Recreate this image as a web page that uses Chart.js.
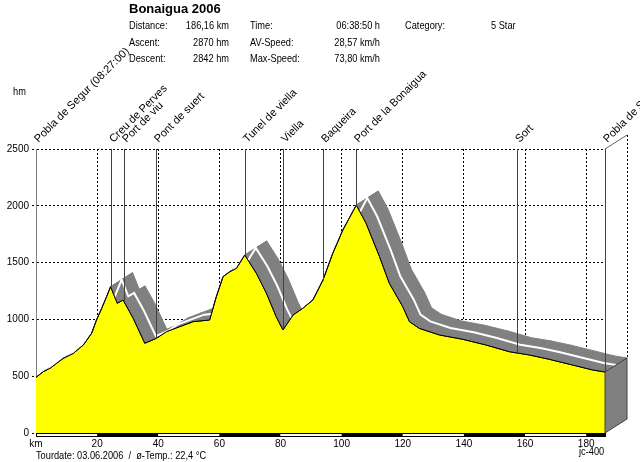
<!DOCTYPE html>
<html>
<head>
<meta charset="utf-8">
<script src="https://cdn.jsdelivr.net/npm/chart.js@4.4.1/dist/chart.umd.min.js"></script>
<style>
html, body { margin: 0; padding: 0; background: #fff; }
#wrap { width: 640px; height: 462px; }
</style>
</head>
<body>
<div id="wrap"><canvas id="profile" width="640" height="462"></canvas></div>
<script>
// profile: distance (km) / altitude (m)
var distKm = [0, 2.4, 4.6, 8.9, 12.2, 15.5, 18.2, 19.8, 21.5, 23.1, 24.4, 26.6, 28.5, 31.8, 35.6, 39.4, 42.7, 47.0, 51.4, 56.8,
    59.0, 61.2, 63.4, 65.6, 68.3, 72.1, 75.4, 78.6, 80.8, 84.1, 87.3, 90.6, 93.9, 97.1, 100.4, 104.8, 108.0, 112.4, 115.6, 120.0,
    122.2, 125.4, 132.0, 139.6, 147.2, 154.8, 161.4, 167.9, 175.5, 182.1, 186.16];
var elevM = [490, 540, 570, 657, 701, 775, 878, 995, 1098, 1200, 1288, 1142, 1171, 1010, 790, 834, 892, 936, 980, 995,
    1200, 1376, 1420, 1450, 1567, 1406, 1230, 1024, 907, 1039, 1098, 1171, 1347, 1582, 1787, 2007, 1846, 1552, 1318, 1112,
    980, 921, 863, 825, 775, 716, 687, 649, 599, 555, 537];

var placeNames = ['Pobla de Segur (08:27:00)', 'Creu de Perves', 'Port de viu', 'Pont de suert', 'Tunel de viella',
    'Viella', 'Baqueira', 'Port de la Bonaigua', 'Sort', 'Pobla de Segur'];
var placeKm = [0, 24.4, 28.7, 39.4, 68.3, 80.7, 93.8, 104.6, 157.5, 186.16];

var kmTicks = [0, 20, 40, 60, 80, 100, 120, 140, 160, 180];
var hmTicks = [0, 500, 1000, 1500, 2000, 2500];

var tourTitle = 'Bonaigua 2006';
var infoLabels = [['Distance:', 'Ascent:', 'Descent:'], ['Time:', 'AV-Speed:', 'Max-Speed:'], ['Category:']];
var infoValues = [['186,16 km', '2870 hm', '2842 hm'], ['06:38:50 h', '28,57 km/h', '73,80 km/h'], ['5 Star']];
var footerText = 'Tourdate: 03.06.2006  /  \u00f8-Temp.: 22,4 \u00b0C';

var sans = "'Liberation Sans', Arial, sans-serif";
var depth = { x: 22, y: -14 };

function elevAt(km) {
    for (var i = 0; i < distKm.length - 1; i++) {
        if (km >= distKm[i] && km <= distKm[i + 1]) {
            var t = (km - distKm[i]) / (distKm[i + 1] - distKm[i]);
            return elevM[i] + t * (elevM[i + 1] - elevM[i]);
        }
    }
    return elevM[elevM.length - 1];
}

// the original uses a narrow bitmap font, so squeeze Liberation Sans a bit
function narrowText(ctx, txt, x, y, align) {
    var sx = 0.84;
    ctx.save();
    ctx.translate(x, y);
    ctx.scale(sx, 1);
    ctx.textAlign = align || 'left';
    ctx.fillText(txt, 0, 0);
    ctx.restore();
}

var reliefPlugin = {
    id: 'relief',
    afterDraw: function(chart) {
        var ctx = chart.ctx;
        var xs = chart.scales.x, ys = chart.scales.y;
        var area = chart.chartArea;
        var pts = distKm.map(function(d, i) {
            return { x: xs.getPixelForValue(d), y: ys.getPixelForValue(elevM[i]) };
        });
        var last = pts[pts.length - 1];
        var y0 = ys.getPixelForValue(0);

        // top face of the road, only where it sits above the profile
        ctx.save();
        ctx.beginPath();
        ctx.moveTo(0, 0);
        ctx.lineTo(0, pts[0].y);
        pts.forEach(function(p) { ctx.lineTo(p.x, p.y); });
        ctx.lineTo(640, last.y);
        ctx.lineTo(640, 0);
        ctx.closePath();
        ctx.clip();
        ctx.fillStyle = '#808080';
        ctx.strokeStyle = '#808080';
        ctx.lineWidth = 1;
        for (var i = 0; i < pts.length - 1; i++) {
            var a = pts[i], b = pts[i + 1];
            ctx.beginPath();
            ctx.moveTo(a.x, a.y);
            ctx.lineTo(b.x, b.y);
            ctx.lineTo(b.x + depth.x, b.y + depth.y);
            ctx.lineTo(a.x + depth.x, a.y + depth.y);
            ctx.closePath();
            ctx.fill();
            ctx.stroke();
        }
        ctx.strokeStyle = '#ffffff';
        ctx.lineWidth = 2;
        ctx.beginPath();
        pts.forEach(function(p, i) {
            var px = p.x + depth.x / 2, py = p.y + depth.y / 2;
            if (i === 0) ctx.moveTo(px, py); else ctx.lineTo(px, py);
        });
        ctx.stroke();
        ctx.restore();

        ctx.save();
        ctx.strokeStyle = '#000';
        ctx.lineWidth = 1;
        ctx.beginPath();
        pts.forEach(function(p, i) { if (i === 0) ctx.moveTo(p.x, p.y); else ctx.lineTo(p.x, p.y); });
        ctx.stroke();

        // end face
        ctx.fillStyle = '#808080';
        ctx.strokeStyle = '#404040';
        ctx.beginPath();
        ctx.moveTo(last.x, last.y);
        ctx.lineTo(last.x + depth.x, last.y + depth.y);
        ctx.lineTo(last.x + depth.x, y0 + depth.y);
        ctx.lineTo(last.x, y0);
        ctx.closePath();
        ctx.fill();
        ctx.stroke();

        // back corner
        ctx.strokeStyle = '#606060';
        ctx.beginPath();
        ctx.moveTo(last.x, area.top);
        ctx.lineTo(last.x + depth.x, area.top + depth.y);
        ctx.stroke();
        ctx.strokeStyle = '#000';
        ctx.setLineDash([2, 2]);
        ctx.beginPath();
        ctx.moveTo(last.x + depth.x + 0.5, area.top + depth.y);
        ctx.lineTo(last.x + depth.x + 0.5, last.y + depth.y);
        ctx.stroke();
        ctx.setLineDash([]);

        // km bar below the axis
        var marks = kmTicks.concat([distKm[distKm.length - 1]]);
        for (var k = 0; k < marks.length - 1; k++) {
            var xa = xs.getPixelForValue(marks[k]), xb = xs.getPixelForValue(marks[k + 1]);
            ctx.fillStyle = k % 2 === 0 ? '#ffffff' : '#000000';
            ctx.fillRect(xa, y0, xb - xa, 4);
        }
        ctx.strokeStyle = '#000';
        ctx.strokeRect(xs.getPixelForValue(0) + 0.5, y0 + 0.5, last.x - xs.getPixelForValue(0), 3);

        // places
        ctx.font = '11px ' + sans;
        ctx.fillStyle = '#000';
        ctx.textAlign = 'left';
        ctx.textBaseline = 'alphabetic';
        placeKm.forEach(function(km, i) {
            var x = Math.round(xs.getPixelForValue(km)) + 0.5;
            if (i > 0) {
                ctx.strokeStyle = '#404040';
                ctx.beginPath();
                ctx.moveTo(x, area.top);
                ctx.lineTo(x, ys.getPixelForValue(elevAt(km)));
                ctx.stroke();
            }
            ctx.save();
            ctx.translate(x + 2, 143);
            ctx.rotate(-Math.PI / 4);
            ctx.fillText(placeNames[i], 0, 0);
            ctx.restore();
        });

        // header block
        ctx.textBaseline = 'middle';
        ctx.font = 'bold 13px ' + sans;
        ctx.fillText(tourTitle, 129, 9);
        var labelX = [129, 250, 405];
        var valueX = [229, 380, 491];
        var rowY = [26, 43, 59];
        ctx.font = '11px ' + sans;
        infoLabels.forEach(function(col, c) {
            col.forEach(function(txt, r) {
                narrowText(ctx, txt, labelX[c], rowY[r], 'left');
                narrowText(ctx, infoValues[c][r], valueX[c], rowY[r], c < 2 ? 'right' : 'left');
            });
        });
        narrowText(ctx, 'hm', 13, 92, 'left');
        narrowText(ctx, footerText, 36, 456, 'left');
        narrowText(ctx, 'jc-400', 579, 452, 'left');
        ctx.restore();
    }
};

var profileData = distKm.map(function(d, i) { return { x: d, y: elevM[i] }; });

function gridColor(c) { return c.tick && c.tick.value === 0 ? 'rgba(0,0,0,0)' : '#000'; }

new Chart(document.getElementById('profile'), {
    type: 'line',
    data: {
        datasets: [{
            data: profileData,
            backgroundColor: '#ffff00',
            borderColor: '#000',
            borderWidth: 1,
            fill: 'origin',
            pointRadius: 0,
            tension: 0
        }]
    },
    options: {
        responsive: false,
        animation: false,
        layout: { padding: { top: 149, right: 35, bottom: 0, left: 0 } },
        plugins: { legend: { display: false }, tooltip: { enabled: false } },
        scales: {
            x: {
                type: 'linear',
                min: 0,
                max: 186.16,
                z: 1,
                afterBuildTicks: function(s) { s.ticks = kmTicks.map(function(v) { return { value: v }; }); },
                afterFit: function(s) { s.height = 29; },
                border: { display: false, dash: [2, 2] },
                grid: { color: gridColor, drawTicks: false, lineWidth: 1 },
                ticks: {
                    autoSkip: false,
                    maxRotation: 0,
                    padding: 5,
                    color: '#000',
                    font: { family: sans, size: 10 },
                    callback: function(v) { return v === 0 ? 'km' : String(v); }
                }
            },
            y: {
                min: 0,
                max: 2500,
                z: 1,
                afterBuildTicks: function(s) { s.ticks = hmTicks.map(function(v) { return { value: v }; }); },
                afterFit: function(s) { s.width = 36; },
                border: { display: true, color: '#808080', width: 1, dash: [2, 2] },
                grid: { color: gridColor, tickLength: 4, tickBorderDash: [2, 2], tickColor: '#000', lineWidth: 1 },
                ticks: {
                    padding: 3,
                    color: '#000',
                    font: { family: sans, size: 10 },
                    callback: function(v) { return String(v); }
                }
            }
        }
    },
    plugins: [reliefPlugin]
});
</script>
</body>
</html>
